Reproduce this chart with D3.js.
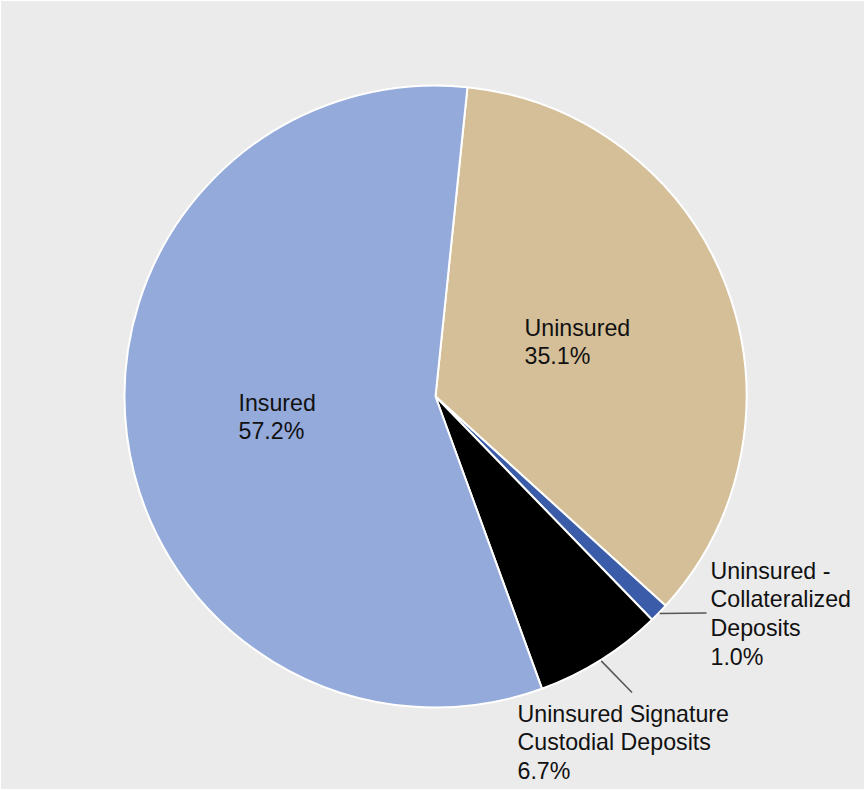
<!DOCTYPE html>
<html>
<head>
<meta charset="utf-8">
<script src="https://cdn.jsdelivr.net/npm/d3@7"></script>
<style>
  body { margin: 0; background: #fff; }
  svg { display: block; }
  text { font-family: "Liberation Sans", Arial, sans-serif; font-size: 23.2px; fill: #111; }
</style>
</head>
<body>
<div id="chart"></div>
<script>
// slice data, clockwise from the top
var categories = ["Uninsured", "Uninsured - Collateralized Deposits", "Uninsured Signature Custodial Deposits", "Insured"];
var shares = [35.1, 1.0, 6.7, 57.2];
var colors = ["#d4bf98", "#3b5ca8", "#000000", "#94aadb"];
// label text lines (the last line is the percentage)
var labelLines = [
  ["Uninsured"],
  ["Uninsured -", "Collateralized", "Deposits"],
  ["Uninsured Signature", "Custodial Deposits"],
  ["Insured"]
];

var width = 865, height = 790;
var cx = 435.5, cy = 396.5, radius = 311;
var startDeg = 5.9;

var svg = d3.select("#chart")
    .append("svg")
    .attr("width", width)
    .attr("height", height);

svg.append("rect")
    .attr("x", 1).attr("y", 1)
    .attr("width", width - 2).attr("height", height - 2)
    .attr("fill", "#ebebeb");

var data = categories.map(function (c, i) { return { name: c, value: shares[i], i: i }; });

var pie = d3.pie()
    .sort(null)
    .value(function (d) { return d.value; })
    .startAngle(startDeg * Math.PI / 180)
    .endAngle(startDeg * Math.PI / 180 + 2 * Math.PI);

var arcs = pie(data);
var arc = d3.arc().innerRadius(0).outerRadius(radius);

var g = svg.append("g").attr("transform", "translate(" + cx + "," + cy + ")");

g.selectAll("path")
    .data(arcs)
    .enter()
    .append("path")
    .attr("d", arc)
    .attr("fill", function (d) { return colors[d.data.i]; })
    .attr("stroke", "#fff")
    .attr("stroke-width", 2)
    .attr("stroke-linejoin", "round");

// where each label block sits (left x, first baseline), relative to the centre
var labelPos = [
  [89, -61],
  [275, 182],
  [82, 325],
  [-197, 14]
];
var lineGap = 28.7;

// leader lines for the two thin slices
function edgePoint(d, r) {
  var a = (d.startAngle + d.endAngle) / 2;
  return [r * Math.sin(a), -r * Math.cos(a)];
}
var leaders = [
  { i: 1, end: [271, 216.5] },
  { i: 2, end: [196.5, 296] }
];
leaders.forEach(function (l) {
  var p = edgePoint(arcs[l.i], radius + 1);
  g.append("line")
    .attr("x1", p[0]).attr("y1", p[1])
    .attr("x2", l.end[0]).attr("y2", l.end[1])
    .attr("stroke", "#555")
    .attr("stroke-width", 1.5);
});

arcs.forEach(function (d) {
  var i = d.data.i;
  var lines = labelLines[i].concat([shares[i].toFixed(1) + "%"]);
  var t = g.append("text")
      .attr("x", labelPos[i][0])
      .attr("y", labelPos[i][1]);
  lines.forEach(function (s, k) {
    t.append("tspan")
      .attr("x", labelPos[i][0])
      .attr("y", labelPos[i][1] + k * lineGap)
      .text(s);
  });
});
</script>
</body>
</html>
